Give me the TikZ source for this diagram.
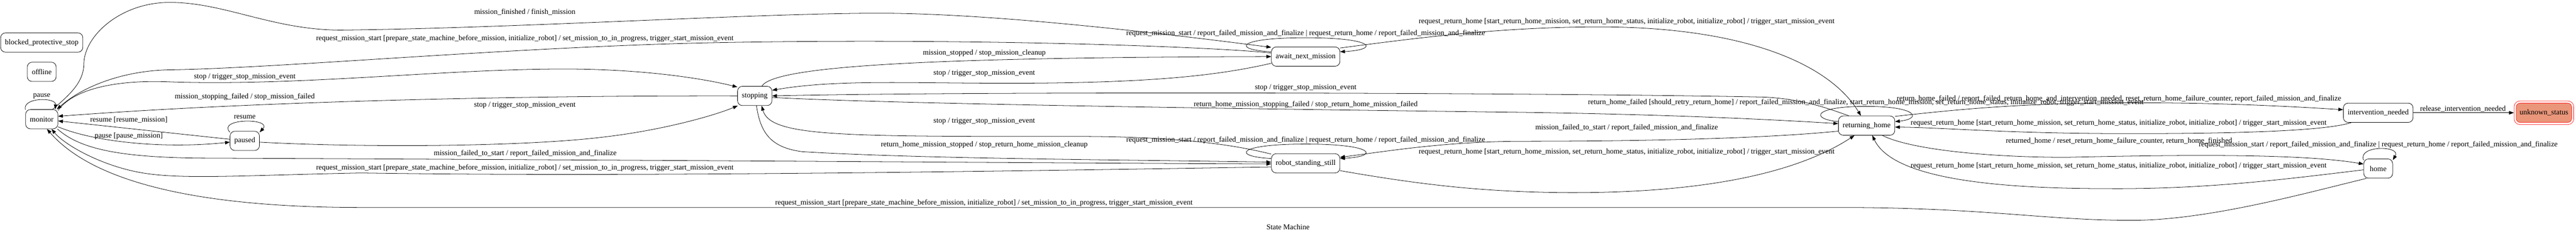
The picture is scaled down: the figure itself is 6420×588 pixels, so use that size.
\documentclass[tikz,border=0pt]{standalone}
\usepackage{fontspec}
\setmainfont{Liberation Serif}
\usepackage{xcolor}
\usetikzlibrary{arrows.meta}
\definecolor{darksalmon}{HTML}{E9967A}
\newcommand\gvfont{\fontsize{14}{16}\selectfont}

\begin{document}
\begin{tikzpicture}[x=0.75pt, y=-0.75pt, line width=0.75pt,
    state/.style={draw, rounded corners=9pt, minimum width=54pt, minimum height=36pt, inner xsep=8pt, inner ysep=4pt, font=\gvfont},
    current/.style={state, draw=red, fill=darksalmon, double=white, double distance=3.2pt, minimum width=107.5pt, minimum height=40pt, outer sep=2.35pt},
    trans/.style={-{Triangle[length=9pt,width=6.5pt]}},
    lbl/.style={font=\gvfont, inner sep=0pt}]
    \useasboundingbox (0,0) rectangle (6420,588);

    \node[state] (blocked) at (104,106) {blocked\_protective\_stop};
    \node[state] (offline) at (104,179) {offline};
    \node[state] (monitor) at (104,297) {monitor};
    \node[state] (paused) at (610,351) {paused};
    \node[state] (stopping) at (1881,239) {stopping};
    \node[state] (await) at (3254,141) {await\_next\_mission};
    \node[state] (standing) at (3254,407) {robot\_standing\_still};
    \node[state] (returning) at (4652,313) {returning\_home};
    \node[state] (intervention) at (5927,281) {intervention\_needed};
    \node[state] (home) at (5927,420) {home};
    \node[current] (unknown) at (6340,281) {unknown\_status};

    \draw[trans] (monitor.150) .. controls (55,242) and (140,242) .. (monitor.36);
    \node[lbl] (l-pause) at (104,239) {pause};

    \draw[trans] (monitor.42) .. controls (175,235) and (208,205) .. (209,160) .. controls (209,90) and (300,6) .. (423,6) .. controls (560,6) and (680,75) .. (850,75) .. controls (1300,70) and (1900,32) .. (2200,33) .. controls (2500,34) and (2950,90) .. (await.165);
    \node[lbl] (l-finished) at (1308,30) {mission\_finished / finish\_mission};

    \draw[trans] (await.174) .. controls (3000,115) and (2400,95) .. (1800,106) .. controls (1300,115) and (700,170) .. (423,174) .. controls (300,176) and (200,220) .. (monitor.33);
    \node[lbl] (l-start-await) at (1308,96) {request\_mission\_start [prepare\_state\_machine\_before\_mission, initialize\_robot] / set\_mission\_to\_in\_progress, trigger\_start\_mission\_event};

    \draw[trans] (monitor.28) .. controls (180,225) and (280,198) .. (423,204) .. controls (750,215) and (1100,172) .. (1406,172) .. controls (1600,172) and (1750,195) .. (stopping.153);
    \node[lbl] (l-stop-monitor) at (610,192) {stop / trigger\_stop\_mission\_event};

    \draw[trans] (stopping.180) .. controls (1400,238) and (700,248) .. (monitor.10);
    \node[lbl] (l-stopfail) at (610,241) {mission\_stopping\_failed / stop\_mission\_failed};

    \draw[trans] (paused) -- (monitor);
    \node[lbl] (l-resume) at (321,299) {resume [resume\_mission]};

    \draw[trans] (monitor.-25) .. controls (230,352) and (400,372) .. (paused.185);
    \node[lbl] (l-pause-mission) at (321,339) {pause [pause\_mission]};

    \draw[trans] (paused.150) .. controls (540,294) and (680,294) .. (paused.30);
    \node[lbl] (l-resume-loop) at (610,292) {resume};

    \draw[trans] (paused.-5) .. controls (900,368) and (1300,366) .. (1500,342) .. controls (1650,325) and (1780,288) .. (stopping.210);
    \node[lbl] (l-stop-paused) at (1308,262) {stop / trigger\_stop\_mission\_event};

    \draw[trans] (monitor.-32) .. controls (200,372) and (300,392) .. (500,394) .. controls (1500,398) and (2600,406) .. (standing.181);
    \node[lbl] (l-failstart-monitor) at (1309,383) {mission\_failed\_to\_start / report\_failed\_mission\_and\_finalize};

    \draw[trans] (standing.186) .. controls (2600,425) and (1600,442) .. (900,431) .. controls (600,437) and (450,448) .. (350,430) .. controls (250,412) and (160,360) .. (monitor.-45);
    \node[lbl] (l-start-standing) at (1308,419) {request\_mission\_start [prepare\_state\_machine\_before\_mission, initialize\_robot] / set\_mission\_to\_in\_progress, trigger\_start\_mission\_event};

    \draw[trans] (home.-140) .. controls (5750,480) and (5500,550) .. (5310,549) .. controls (5100,549) and (4950,518) .. (4600,517) -- (900,517) .. controls (450,517) and (220,440) .. (monitor.-62);
    \node[lbl] (l-start-home) at (2452,506) {request\_mission\_start [prepare\_state\_machine\_before\_mission, initialize\_robot] / set\_mission\_to\_in\_progress, trigger\_start\_mission\_event};

    \draw[trans] (stopping.54) .. controls (1930,165) and (2300,143) .. (await.west);
    \node[lbl] (l-stopped) at (2453,132) {mission\_stopped / stop\_mission\_cleanup};

    \draw[trans] (await.191) .. controls (3050,185) and (2900,204) .. (2600,207) .. controls (2300,210) and (2100,195) .. (stopping.18);
    \node[lbl] (l-stop-await) at (2453,183) {stop / trigger\_stop\_mission\_event};

    \draw[trans] (returning.151) .. controls (4560,272) and (4500,248) .. (4400,242) .. controls (3800,230) and (2400,228) .. (stopping.east);
    \node[lbl] (l-stop-returning) at (3254,219) {stop / trigger\_stop\_mission\_event};

    \draw[trans] (stopping.-5) .. controls (2200,258) and (3000,270) .. (3800,280) .. controls (4200,286) and (4450,300) .. (returning.176);
    \node[lbl] (l-rh-stopfail) at (3254,260) {return\_home\_mission\_stopping\_failed / stop\_return\_home\_mission\_failed};

    \draw[trans] (returning.191) .. controls (4400,345) and (4100,352) .. (3800,352) .. controls (3600,352) and (3450,378) .. (standing.10);
    \node[lbl] (l-failstart-returning) at (4054,318) {mission\_failed\_to\_start / report\_failed\_mission\_and\_finalize};

    \draw[trans] (standing.165) .. controls (3080,362) and (2950,341) .. (2700,340) .. controls (2100,340) and (1920,342) .. (stopping.-55);
    \node[lbl] (l-stop-standing) at (2453,302) {stop / trigger\_stop\_mission\_event};

    \draw[trans] (stopping.-80) .. controls (1895,330) and (1920,368) .. (2000,378) .. controls (2300,396) and (2800,398) .. (standing.178);
    \node[lbl] (l-rh-stopped) at (2453,361) {return\_home\_mission\_stopped / stop\_return\_home\_mission\_cleanup};

    \draw[trans] (standing.172) .. controls (3070,390) and (3080,359) .. (3254,359) .. controls (3428,359) and (3438,390) .. (standing.8);
    \node[lbl] (l-loop-standing) at (3254,349) {request\_mission\_start / report\_failed\_mission\_and\_finalize | request\_return\_home / report\_failed\_mission\_and\_finalize};

    \draw[trans] (await.172) .. controls (3070,124) and (3080,94) .. (3254,94) .. controls (3428,94) and (3438,124) .. (await.8);
    \node[lbl] (l-loop-await) at (3254,83) {request\_mission\_start / report\_failed\_mission\_and\_finalize | request\_return\_home / report\_failed\_mission\_and\_finalize};

    \draw[trans] (await.14) .. controls (3550,92) and (3750,67) .. (3990,67) .. controls (4350,68) and (4560,160) .. (returning.120);
    \node[lbl] (l-home-await) at (4054,54) {request\_return\_home [start\_return\_home\_mission, set\_return\_home\_status, initialize\_robot, initialize\_robot] / trigger\_start\_mission\_event};

    \draw[trans] (standing.-12) .. controls (3550,462) and (3700,478) .. (3900,480) .. controls (4250,482) and (4480,430) .. (returning.-141);
    \node[lbl] (l-home-standing) at (4054,379) {request\_return\_home [start\_return\_home\_mission, set\_return\_home\_status, initialize\_robot, initialize\_robot] / trigger\_start\_mission\_event};

    \draw[trans] (returning.172) .. controls (4510,296) and (4520,265) .. (4650,265) .. controls (4780,265) and (4790,296) .. (returning.8);
    \node[lbl] (l-retry) at (4650,255) {return\_home\_failed [should\_retry\_return\_home] / report\_failed\_mission\_and\_finalize, start\_return\_home\_mission, set\_return\_home\_status, initialize\_robot, trigger\_start\_mission\_event};

    \draw[trans] (returning.18) .. controls (4900,270) and (5050,257) .. (5310,256) .. controls (5550,256) and (5720,266) .. (intervention.175);
    \node[lbl] (l-rh-failed) at (5281,246) {return\_home\_failed / report\_failed\_return\_home\_and\_intervention\_needed, reset\_return\_home\_failure\_counter, report\_failed\_mission\_and\_finalize};

    \draw[trans] (intervention.-160) .. controls (5800,325) and (5600,333) .. (5310,333) .. controls (5000,333) and (4850,318) .. (returning.-3);
    \node[lbl] (l-home-intervention) at (5280,307) {request\_return\_home [start\_return\_home\_mission, set\_return\_home\_status, initialize\_robot, initialize\_robot] / trigger\_start\_mission\_event};

    \draw[trans] (returning.-32) .. controls (4760,372) and (4950,392) .. (5150,392) .. controls (5500,384) and (5750,385) .. (home.163);
    \node[lbl] (l-returned) at (5281,351) {returned\_home / reset\_return\_home\_failure\_counter, return\_home\_finished};

    \draw[trans] (home.185) .. controls (5700,446) and (5500,472) .. (5250,470) .. controls (4900,470) and (4710,430) .. (returning.-60);
    \node[lbl] (l-home-home) at (5280,414) {request\_return\_home [start\_return\_home\_mission, set\_return\_home\_status, initialize\_robot, initialize\_robot] / trigger\_start\_mission\_event};

    \draw[trans] (home.150) .. controls (5875,362) and (5985,362) .. (home.30);
    \node[lbl] (l-loop-home) at (5927,361) {request\_mission\_start / report\_failed\_mission\_and\_finalize | request\_return\_home / report\_failed\_mission\_and\_finalize};

    \draw[trans] (intervention) -- (unknown);
    \node[lbl] (l-release) at (6138,271) {release\_intervention\_needed};

    \node[lbl] (title) at (3210,566) {State Machine};
\end{tikzpicture}
\end{document}
